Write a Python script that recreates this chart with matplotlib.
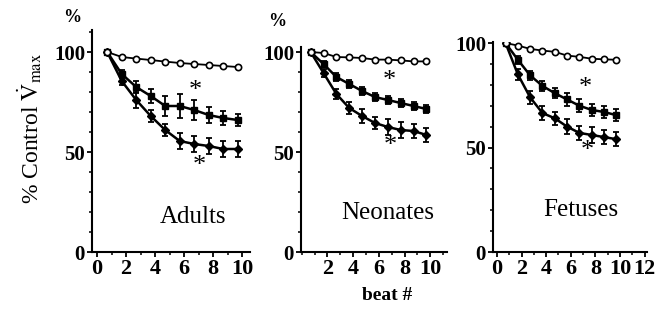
import matplotlib
matplotlib.use("Agg")
import matplotlib.pyplot as plt
from matplotlib.ticker import MultipleLocator, FixedLocator
import warnings
warnings.filterwarnings("ignore")

plt.rcParams['mathtext.fontset'] = 'stix'

beats = [0.7, 1.7, 2.7, 3.7, 4.7, 5.7, 6.7, 7.7, 8.7, 9.7]

# Adults
adults_ctrl = [100, 97.5, 96.7, 96, 95.2, 94.5, 94, 93.5, 93, 92.5]
adults_sq = [100, 89, 82.5, 78, 73, 73, 71, 68.5, 67, 66]
adults_sq_err = [1, 2, 3, 3.5, 5, 6, 5, 4, 3.5, 3]
adults_tri = [100, 85.5, 76, 68, 61, 55.5, 54, 53, 51.5, 51.5]
adults_tri_err = [1, 2, 4, 3, 3, 4, 4, 4, 4, 4]

# Neonates
neo_ctrl = [100, 99.5, 97.5, 97.3, 97, 96.2, 96.2, 95.8, 95.3, 95.3]
neo_sq = [100, 94, 87.5, 84, 80.5, 77.5, 76, 74.5, 73, 71.5]
neo_sq_err = [1, 1.5, 2, 2, 2, 2, 2, 2, 2, 2]
neo_tri = [100, 89.5, 79, 72, 68, 64.5, 62.5, 61, 60.5, 58.5]
neo_tri_err = [1, 2, 2.5, 3, 3.5, 3, 4, 4, 3.5, 3.5]

# Fetuses
fet_ctrl = [100, 98.8, 97.2, 96.4, 95.8, 94, 93.4, 92.5, 92.2, 92]
fet_sq = [100, 92, 84.5, 79.5, 76, 73, 70, 68, 67, 65.5]
fet_sq_err = [1, 2, 2, 2.5, 2.5, 3, 3, 3, 3, 3]
fet_tri = [100, 85, 74, 66.5, 64, 60, 57, 56, 55, 54]
fet_tri_err = [1, 2.5, 3, 3.5, 3, 3.5, 3.5, 4, 3.5, 3.5]

panel_names = ["Adults", "Neonates", "Fetuses"]
x_tick_labels = [["0", "2", "4", "6", "8", "10"],
                 ["2", "4", "6", "8", "10"],
                 ["0", "2", "4", "6", "8", "10", "12"]]
x_tick_vals = [[0, 2, 4, 6, 8, 10], [2, 4, 6, 8, 10], [0, 2, 4, 6, 8, 10, 12]]
y_tick_vals = [0, 50, 100]
star_pos = [[(6.8, 80.5), (7.05, 43)], [(6.85, 85.5), (6.9, 53)], [(7.2, 78.5), (7.35, 48.5)]]
label_pos = [(6.6, 17.5), (6.7, 19.5), (6.8, 20)]

W, H = 656, 313
fig = plt.figure(figsize=(W / 100, H / 100), dpi=100)

boxes = [(92, 250, 252, 30), (301, 447, 252, 47), (493, 647, 252, 42)]
xlims = [(-0.35, 10.55), (-0.05, 11.3), (-0.32, 12.2)]
ylims = [(0, 111), (0, 102.5), (0, 100.5)]

data = [
    (adults_ctrl, adults_sq, adults_sq_err, adults_tri, adults_tri_err),
    (neo_ctrl, neo_sq, neo_sq_err, neo_tri, neo_tri_err),
    (fet_ctrl, fet_sq, fet_sq_err, fet_tri, fet_tri_err),
]

serif = ['Liberation Serif', 'DejaVu Serif']

for i in range(3):
    l, r, b, t = boxes[i]
    ax = fig.add_axes([l / W, (H - b) / H, (r - l) / W, (b - t) / H])
    ctrl, sq, sqe, tri, trie = data[i]
    ax.errorbar(beats, tri, yerr=trie, color='black', lw=1.8, marker='D', ms=4,
                capsize=2, elinewidth=1.3, capthick=1.3, zorder=3)
    ax.errorbar(beats, sq, yerr=sqe, color='black', lw=1.8, marker='s', ms=4.5,
                capsize=2, elinewidth=1.3, capthick=1.3, zorder=3)
    ax.plot(beats, ctrl, color='black', lw=1.3, marker='o', ms=4.5,
            mfc='white', mec='black', mew=1.2, zorder=4)
    ax.set_xlim(*xlims[i])
    ax.set_ylim(*ylims[i])
    for s in ['top', 'right']:
        ax.spines[s].set_visible(False)
    for s in ['left', 'bottom']:
        ax.spines[s].set_linewidth(1.5)
    ax.xaxis.set_major_locator(FixedLocator(x_tick_vals[i]))
    ax.set_xticklabels(x_tick_labels[i], fontfamily=serif, fontweight='bold', fontsize=16)
    ax.xaxis.set_minor_locator(MultipleLocator(1))
    ax.yaxis.set_major_locator(FixedLocator(y_tick_vals))
    ax.set_yticklabels([str(v) for v in y_tick_vals], fontfamily=serif,
                       fontweight='bold', fontsize=15)
    ax.yaxis.set_minor_locator(MultipleLocator(10))
    ax.tick_params(which='major', length=3.5, width=1.3, pad=1.5)
    ax.tick_params(which='minor', length=2.5, width=1.1)
    ax.patch.set_alpha(0)
    for (sx, sy) in star_pos[i]:
        ax.text(sx, sy, "*", ha='center', va='center', fontsize=19,
                fontfamily=serif)
    ax.text(label_pos[i][0], label_pos[i][1], panel_names[i], ha='center',
            va='center', fontsize=18, fontfamily=serif)

fig.text(72 / W, 1 - 18 / H, "%", ha='center', va='center', fontsize=13,
         fontweight='bold', fontfamily=serif)
fig.text(277 / W, 1 - 22 / H, "%", ha='center', va='center', fontsize=13,
         fontweight='bold', fontfamily=serif)
fig.text(387 / W, 1 - 295 / H, "beat #", ha='center', va='center', fontsize=14,
         fontweight='bold', fontfamily=serif)
fig.text(30 / W, 1 - 128 / H, r"% Control $\dot{\mathrm{V}}_{\mathrm{max}}$",
         rotation=90, ha='center', va='center', fontsize=17, fontfamily=serif)

fig.savefig("out.png", dpi=100)
